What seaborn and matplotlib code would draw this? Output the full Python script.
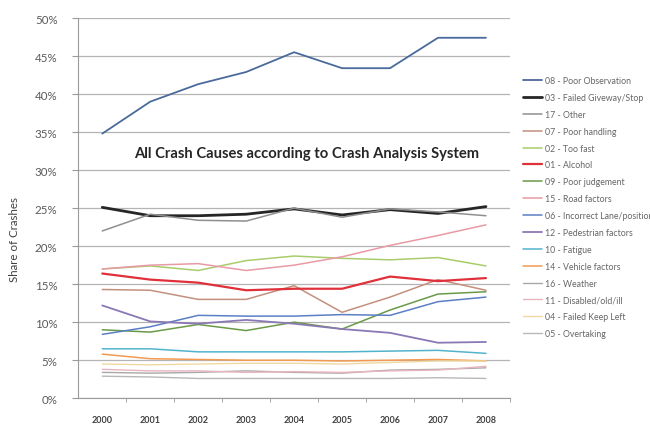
import matplotlib
matplotlib.use('Agg')
import matplotlib.pyplot as plt
from matplotlib.ticker import PercentFormatter, MultipleLocator, FixedLocator
import seaborn as sns
import pandas as pd

years = [2000, 2001, 2002, 2003, 2004, 2005, 2006, 2007, 2008]

causes = ['08 - Poor Observation', '03 - Failed Giveway/Stop', '17 - Other',
          '07 - Poor handling', '02 - Too fast', '01 - Alcohol',
          '09 - Poor judgement', '15 - Road factors', '06 - Incorrect Lane/position',
          '12 - Pedestrian factors', '10 - Fatigue', '14 - Vehicle factors',
          '16 - Weather', '11 - Disabled/old/ill', '04 - Failed Keep Left',
          '05 - Overtaking']

poor_obs = [34.8, 39.0, 41.3, 42.9, 45.5, 43.4, 43.4, 47.4, 47.4]
failed_giveway = [25.1, 24.0, 24.0, 24.2, 24.9, 24.1, 24.8, 24.3, 25.2]
other = [22.0, 24.2, 23.4, 23.3, 25.0, 23.8, 24.9, 24.5, 24.0]
poor_handling = [14.3, 14.2, 13.0, 13.0, 14.8, 11.3, 13.3, 15.6, 14.2]
too_fast = [17.0, 17.4, 16.8, 18.1, 18.7, 18.4, 18.2, 18.5, 17.4]
alcohol = [16.4, 15.6, 15.2, 14.2, 14.4, 14.4, 16.0, 15.4, 15.8]
poor_judgement = [9.0, 8.7, 9.7, 8.9, 10.0, 9.1, 11.6, 13.7, 14.0]
road_factors = [17.0, 17.5, 17.7, 16.8, 17.5, 18.6, 20.1, 21.4, 22.8]
incorrect_lane = [8.4, 9.4, 10.9, 10.8, 10.8, 11.0, 10.9, 12.7, 13.3]
pedestrian = [12.2, 10.1, 9.8, 10.3, 9.8, 9.1, 8.6, 7.3, 7.4]
fatigue = [6.5, 6.5, 6.1, 6.1, 6.1, 6.1, 6.2, 6.3, 5.9]
vehicle = [5.8, 5.2, 5.1, 5.0, 5.0, 4.9, 5.0, 5.1, 4.9]
weather = [3.4, 3.3, 3.4, 3.6, 3.4, 3.3, 3.7, 3.8, 4.0]
disabled = [3.8, 3.6, 3.6, 3.4, 3.5, 3.4, 3.6, 3.7, 4.2]
failed_keep_left = [4.5, 4.4, 4.5, 4.6, 4.6, 4.5, 4.7, 4.9, 4.9]
overtaking = [2.9, 2.8, 2.6, 2.6, 2.6, 2.6, 2.6, 2.7, 2.6]

series = [poor_obs, failed_giveway, other, poor_handling, too_fast, alcohol,
          poor_judgement, road_factors, incorrect_lane, pedestrian, fatigue,
          vehicle, weather, disabled, failed_keep_left, overtaking]

colors = ['#4a6a9c', '#262626', '#8f8f8f', '#c4907e', '#a9cc6a', '#e0303a',
          '#6a9a48', '#e89aa6', '#5b7fc4', '#8a78b4', '#52b4cc', '#f29a52',
          '#a8a8a8', '#e8b4c0', '#f0d8a0', '#b8b8b8']
widths = [1.3, 2.0, 1.1, 1.1, 1.1, 1.6, 1.1, 1.1, 1.1, 1.3, 1.1, 1.1,
          1.0, 1.0, 1.0, 1.0]

sns.set_style('white')
plt.rcParams['font.family'] = ['Lato', 'DejaVu Sans']

fig = plt.figure(figsize=(6.5, 4.27), dpi=100)
ax = fig.add_axes([0.1205, 0.065, 0.664, 0.8905])

for name, vals, c, w in zip(causes, series, colors, widths):
    df = pd.DataFrame({'year': years, 'share': vals})
    sns.lineplot(data=df, x='year', y='share', color=c, linewidth=w,
                 label=name, ax=ax)

ax.set_xlim(1999.5, 2008.5)
ax.set_ylim(0, 50)
ax.yaxis.set_major_locator(MultipleLocator(5))
ax.yaxis.set_major_formatter(PercentFormatter(decimals=0))
ax.xaxis.set_major_locator(FixedLocator(years))
ax.xaxis.set_minor_locator(FixedLocator([y + 0.5 for y in years]))
ax.set_xticklabels([str(y) for y in years], fontweight='bold', fontsize=6.5,
                   color='#404040')
ax.grid(axis='y', color='#b4b4b4', linewidth=0.9)
ax.set_axisbelow(True)

for s in ['top', 'right']:
    ax.spines[s].set_visible(False)
ax.spines['left'].set_color('#9a9a9a')
ax.spines['bottom'].set_color('#9a9a9a')
ax.tick_params(axis='y', which='major', length=4, color='#9a9a9a', pad=11,
               labelsize=8.3, labelcolor='#595959', left=True)
ax.tick_params(axis='x', which='major', length=0, pad=12)
ax.tick_params(axis='x', which='minor', length=3, color='#9a9a9a', bottom=True)

ax.set_xlabel('')
ax.set_ylabel('Share of Crashes', fontsize=8.3, color='#404040')
ax.yaxis.set_label_coords(-0.135, 0.42)

ax.text(0.528, 0.645, 'All Crash Causes according to Crash Analysis System',
        transform=ax.transAxes, ha='center', va='center', fontsize=10.6,
        fontweight='bold', color='#262626')

handles, labels = ax.get_legend_handles_labels()
ax.legend_.remove()
fig.legend(handles, labels, loc='upper left', bbox_to_anchor=(0.8046, 0.8195),
           frameon=False, fontsize=6.3, handlelength=2.2, handletextpad=0.35,
           labelspacing=0.9, borderpad=0, borderaxespad=0,
           labelcolor='#666666')

plt.savefig('out.png', dpi=100)
